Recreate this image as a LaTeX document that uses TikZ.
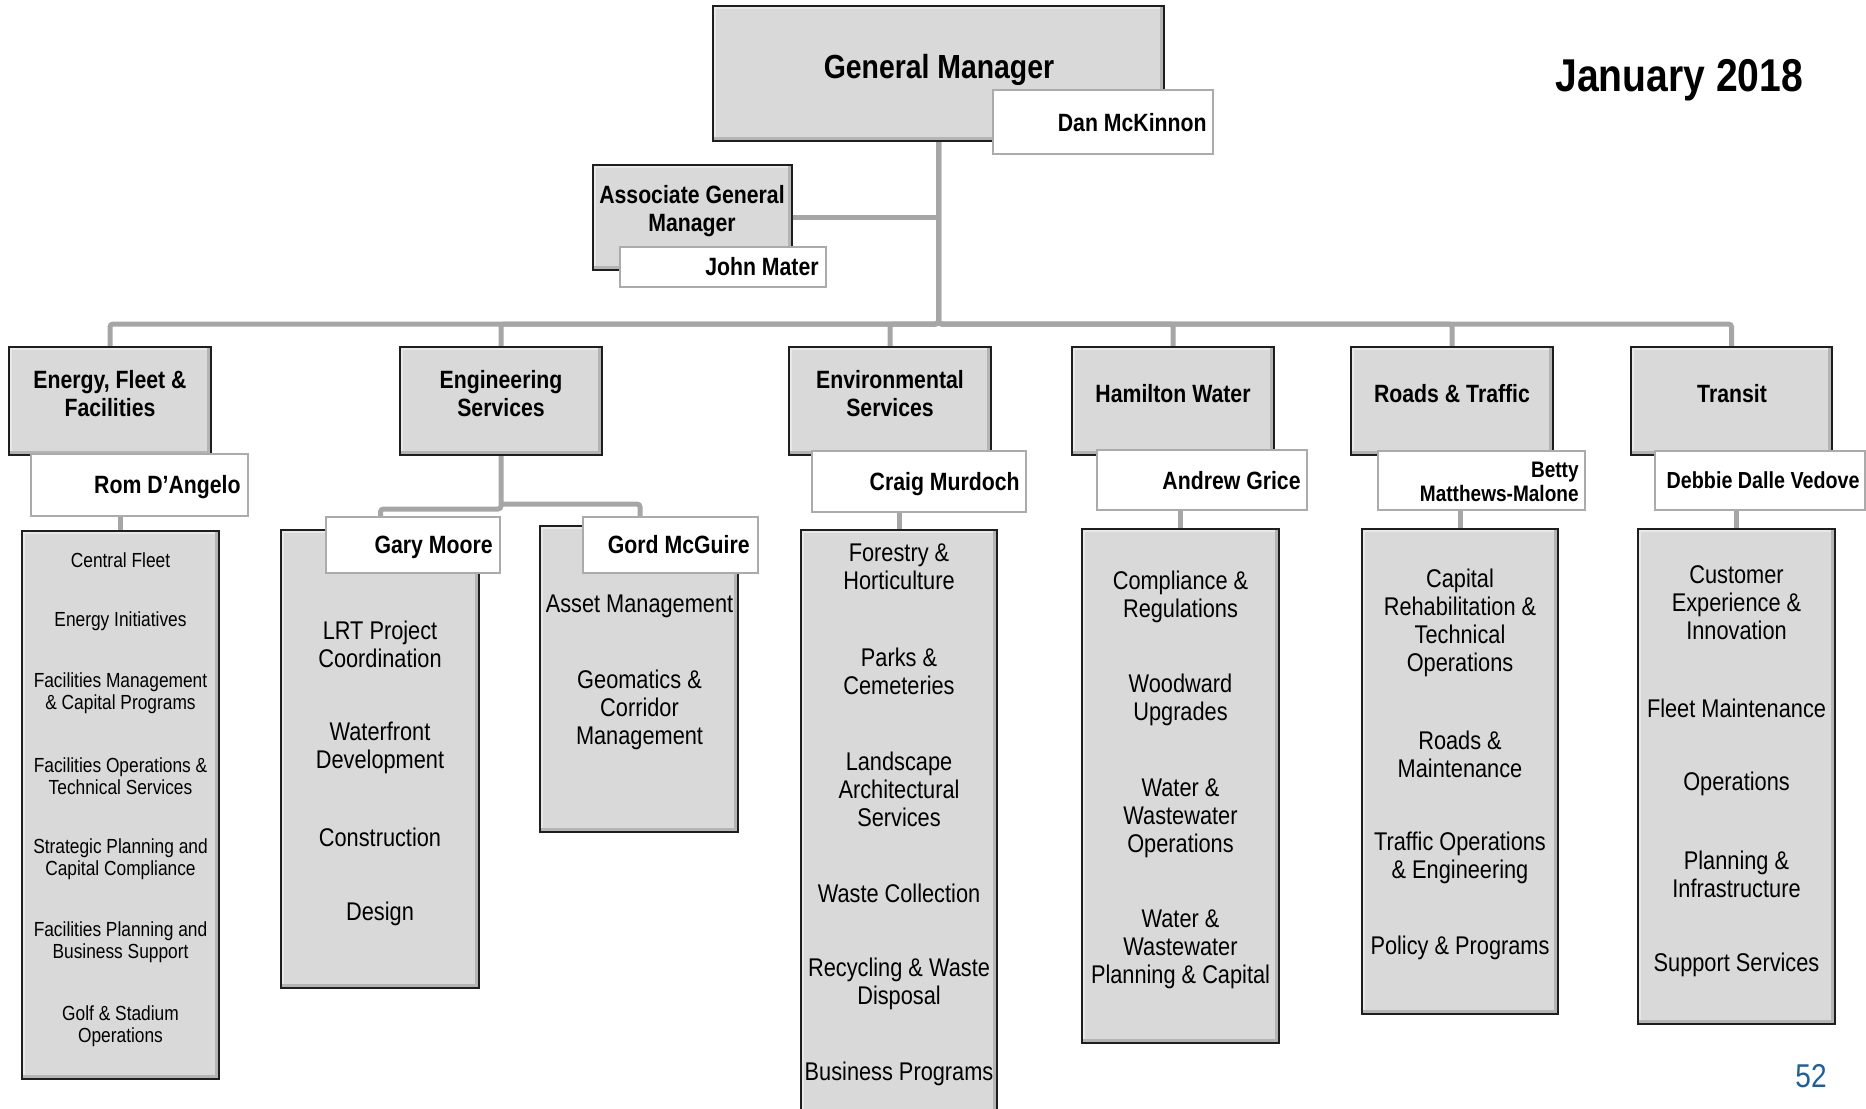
\documentclass[tikz,border=0pt]{standalone}
\usepackage{fontspec}
\setmainfont{Liberation Sans}[FakeStretch=0.85]
\usetikzlibrary{backgrounds}
\definecolor{boxgray}{HTML}{D9D9D9}
\definecolor{bevelgray}{HTML}{B4B4B4}
\definecolor{lightgray}{HTML}{E8E8E8}
\definecolor{linegray}{HTML}{A6A6A6}
\definecolor{edgegray}{HTML}{1E1E1E}
\definecolor{namegray}{HTML}{ABABAB}
\definecolor{pageblue}{HTML}{1F5F99}
\tikzset{
  unitbox/.style={fill=boxgray, draw=edgegray, line width=1pt, inner sep=0pt, outer sep=0pt,
    path picture={
      \fill[lightgray] (path picture bounding box.north west) rectangle ([xshift=1.5pt]path picture bounding box.south west);
      \fill[lightgray] (path picture bounding box.north west) rectangle ([yshift=-1.5pt]path picture bounding box.north east);
      \fill[bevelgray] (path picture bounding box.south west) rectangle ([yshift=2.2pt]path picture bounding box.south east);
      \fill[bevelgray] ([xshift=-2.2pt]path picture bounding box.south east) rectangle (path picture bounding box.north east);
    }},
  namebox/.style={fill=white, draw=namegray, line width=1pt, inner sep=0pt, outer sep=0pt},
  conn/.style={draw=linegray, line width=2.5pt, rounded corners=1.5pt},
  title/.style={font=\fontsize{12.5}{14}\selectfont\bfseries, align=center, inner sep=0pt},
  nametext/.style={font=\fontsize{12.5}{14}\selectfont\bfseries, inner sep=0pt, anchor=base east},
  item/.style={font=\fontsize{12.8}{14}\selectfont, align=center, inner sep=0pt},
  smallitem/.style={font=\fontsize{10.2}{11}\selectfont, align=center, inner sep=0pt},
}
\newcommand\rbox[6]{\node[#1, anchor=north west, minimum width={(#5-#3)*0.5pt}, minimum height={(#6-#4)*0.5pt}] (#2) at (#3,#4) {};}
\begin{document}
\begin{tikzpicture}[x=0.5pt, y=-0.5pt]
\useasboundingbox (0,0) rectangle (1866,1108);
\clip (0,0) rectangle (1866,1108);
% top level
\rbox{unitbox}{gm}{713}{6}{1164}{141}
\rbox{unitbox}{agm}{593}{165}{792}{270}
% departments
\rbox{unitbox}{d1}{9}{347}{211}{455}
\rbox{unitbox}{d2}{400}{347}{602}{455}
\rbox{unitbox}{d3}{789}{347}{991}{455}
\rbox{unitbox}{d4}{1072}{347}{1274}{455}
\rbox{unitbox}{d5}{1351}{347}{1553}{455}
\rbox{unitbox}{d6}{1631}{347}{1832}{455}
% lists
\rbox{unitbox}{l1}{22}{531}{219}{1079}
\rbox{unitbox}{l2}{281}{530}{479}{988}
\rbox{unitbox}{l2b}{540}{526}{738}{832}
\rbox{unitbox}{l3}{801}{530}{997}{1120}
\rbox{unitbox}{l4}{1082}{529}{1279}{1043}
\rbox{unitbox}{l5}{1362}{529}{1558}{1014}
\rbox{unitbox}{l6}{1638}{529}{1835}{1024}
% name boxes
\rbox{namebox}{dan}{993}{90}{1213}{154}
\rbox{namebox}{john}{620}{247}{826}{287}
\rbox{namebox}{n1}{31}{454}{248}{516}
\rbox{namebox}{gary}{326}{517}{500}{573}
\rbox{namebox}{gord}{583}{517}{758}{573}
\rbox{namebox}{n3}{812}{451}{1026}{512}
\rbox{namebox}{n4}{1097}{450}{1307}{510}
\rbox{namebox}{n5}{1378}{451}{1585}{510}
\rbox{namebox}{n6}{1655}{451}{1865}{510}
% connectors
\begin{pgfonlayer}{background}
\coordinate (bus) at (939,324);
\foreach \d in {d1,d2,d3,d4,d5,d6}
  \draw[conn] (gm.south) -- (gm.south |- bus) -| (\d.north);
\draw[conn] (agm.east) -- (agm.east -| gm.south);
\draw[conn] (d2.south) -- ++(0,54) -| ([xshift=-16.25pt]gary.north);
\draw[conn] ([yshift=-24.5pt]d2.south) -| ([xshift=-15.25pt]gord.north);
\draw[conn] (l1.north) -- (l1.north |- n1.south);
\draw[conn] (l3.north) -- (l3.north |- n3.south);
\draw[conn] (l4.north) -- (l4.north |- n4.south);
\draw[conn] (l5.north) -- (l5.north |- n5.south);
\draw[conn] (l6.north) -- (l6.north |- n6.south);
\end{pgfonlayer}
% texts
\node[font=\fontsize{16.7}{18}\selectfont\bfseries, anchor=base, inner sep=0pt] (gmt) at (939,78) {General Manager};
\node[nametext] (dant) at (1207,131) {Dan McKinnon};
\node[title] (agmt) at (692,211) {Associate General\\Manager};
\node[nametext] (johnt) at (819,275) {John Mater};
\node[font=\fontsize{23}{26}\selectfont\bfseries, anchor=base west, inner sep=0pt] (date) at (1555,91) {January 2018};
\node[font=\fontsize{16.5}{18}\selectfont, text=pageblue, anchor=base east, inner sep=0pt] (page) at (1827,1087) {52};
\node[title] (t1) at (110,394) {Energy, Fleet \&\\Facilities};
\node[title] (t2) at (501,394) {Engineering\\Services};
\node[title] (t3) at (890,394) {Environmental\\Services};
\node[title] (t4) at (1173,394) {Hamilton Water};
\node[title] (t5) at (1452,394) {Roads \& Traffic};
\node[title] (t6) at (1732,394) {Transit};
\node[nametext] (nt1) at (241,493) {Rom D’Angelo};
\node[nametext] (ntg) at (493,553) {Gary Moore};
\node[nametext] (ntm) at (750,553) {Gord McGuire};
\node[nametext] (nt3) at (1020,490) {Craig Murdoch};
\node[nametext] (nt4) at (1301,489) {Andrew Grice};
\node[font=\fontsize{11.2}{12}\selectfont\bfseries, align=right, anchor=east, inner sep=0pt] (nt5) at (1579,482) {Betty\\Matthews-Malone};
\node[font=\fontsize{11.6}{12}\selectfont\bfseries, anchor=base east, inner sep=0pt] (nt6) at (1860,488) {Debbie Dalle Vedove};
% Energy list
\node[smallitem] (a1) at (120.5,560) {Central Fleet};
\node[smallitem] (a2) at (120.5,621) {Energy Initiatives};
\node[smallitem] (a3) at (120.5,693) {Facilities Management\\\& Capital Programs};
\node[smallitem] (a4) at (120.5,776) {Facilities Operations \&\\Technical Services};
\node[smallitem] (a5) at (120.5,859) {Strategic Planning and\\Capital Compliance};
\node[smallitem] (a6) at (120.5,942.5) {Facilities Planning and\\Business Support};
\node[smallitem] (a7) at (120.5,1026) {Golf \& Stadium\\Operations};
% Engineering list
\node[item] (b1) at (380,644) {LRT Project\\Coordination};
\node[item] (b2) at (380,747.5) {Waterfront\\Development};
\node[item] (b3) at (380,837) {Construction};
\node[item] (b4) at (380,914) {Design};
\node[item] (b5) at (639.5,606) {Asset Management};
\node[item] (b6) at (639.5,710) {Geomatics \&\\Corridor\\Management};
% Environmental list
\node[item] (c1) at (899,566.5) {Forestry \&\\Horticulture};
\node[item] (c2) at (899,671.5) {Parks \&\\Cemeteries};
\node[item] (c3) at (899,789) {Landscape\\Architectural\\Services};
\node[item] (c4) at (899,893) {Waste Collection};
\node[item] (c5) at (899,984) {Recycling \& Waste\\Disposal};
\node[item] (c6) at (899,1074) {Business Programs};
% Hamilton Water list
\node[item] (e1) at (1180.5,596.5) {Compliance \&\\Regulations};
\node[item] (e2) at (1180.5,700) {Woodward\\Upgrades};
\node[item] (e3) at (1180.5,818) {Water \&\\Wastewater\\Operations};
\node[item] (e4) at (1180.5,949) {Water \&\\Wastewater\\Planning \& Capital};
% Roads list
\node[item] (f1) at (1460,623) {Capital\\Rehabilitation \&\\Technical\\Operations};
\node[item] (f2) at (1460,754) {Roads \&\\Maintenance};
\node[item] (f3) at (1460,858) {Traffic Operations\\\& Engineering};
\node[item] (f4) at (1460,948) {Policy \& Programs};
% Transit list
\node[item] (g1) at (1736.5,603) {Customer\\Experience \&\\Innovation};
\node[item] (g2) at (1736.5,708) {Fleet Maintenance};
\node[item] (g3) at (1736.5,784) {Operations};
\node[item] (g4) at (1736.5,874.5) {Planning \&\\Infrastructure};
\node[item] (g5) at (1736.5,965) {Support Services};
\end{tikzpicture}
\end{document}
